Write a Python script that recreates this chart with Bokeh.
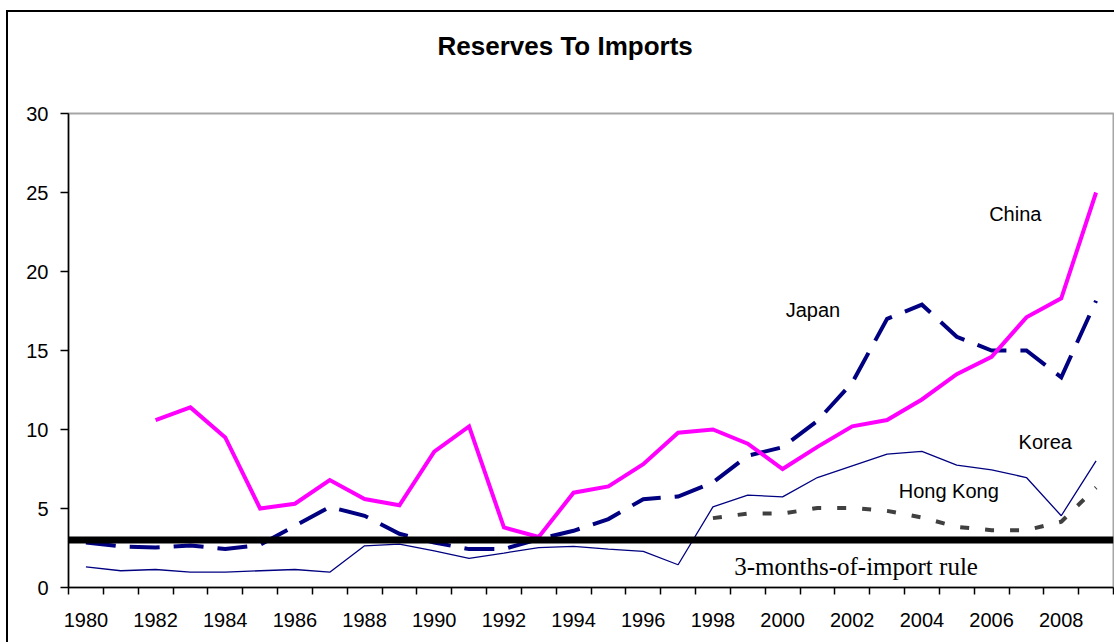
from bokeh.plotting import figure
from bokeh.models import Range1d, FixedTicker, Span, Label, Title
from bokeh.embed import file_html
from bokeh.resources import INLINE

nan = float("nan")

# Reserves expressed in months of imports, 1980-2009
years = list(range(1980, 2010))
china = [nan, nan, 10.6, 11.4, 9.5, 5.0, 5.3, 6.8, 5.6, 5.2,
         8.6, 10.2, 3.8, 3.2, 6.0, 6.4, 7.8, 9.8, 10.0, 9.1,
         7.5, 8.9, 10.2, 10.6, 11.9, 13.5, 14.6, 17.1, 18.3, 25.0]
japan = [2.85, 2.6, 2.53, 2.66, 2.43, 2.7, 3.9, 5.1, 4.54, 3.4,
         2.85, 2.43, 2.43, 3.06, 3.59, 4.33, 5.59, 5.76, 6.65, 8.34,
         8.88, 10.55, 12.97, 17.0, 17.9, 15.87, 15.0, 15.0, 13.3, 18.15]
korea = [1.31, 1.06, 1.14, 0.97, 0.97, 1.06, 1.14, 0.97, 2.64, 2.75,
         2.32, 1.84, 2.18, 2.53, 2.6, 2.43, 2.28, 1.44, 5.1, 5.85,
         5.74, 6.96, 7.7, 8.44, 8.61, 7.75, 7.45, 6.96, 4.54, 8.02]
hong_kong = [nan] * 18 + [4.39, 4.68, 4.68, 5.03, 5.03, 4.85, 4.43, 3.84,
                          3.63, 3.63, 4.16, 6.33]
rule_level = 3
y_ticks = [0, 5, 10, 15, 20, 25, 30]
x_label_years = list(range(1980, 2010, 2))

SANS = "Liberation Sans"
SERIF = "Liberation Serif"

p = figure(
    width=1108, height=632,
    x_range=Range1d(years[0] - 0.5, years[-1] + 0.5),
    y_range=Range1d(0, 30),
    output_backend="svg", toolbar_location=None,
    title_location=None,
    min_border_left=60, min_border_right=3,
    min_border_top=101, min_border_bottom=57,
    margin=(10, 0, 0, 6),
)
p.styles = {"border-top": "2px solid #000000", "border-left": "2px solid #000000"}

# empty band between the plot area and the heading
p.add_layout(Title(text=" ", text_font_size="2px", standoff=49), "above")
p.add_layout(Title(text="Reserves To Imports", text_font=SANS,
                   text_font_size="26px", text_font_style="bold",
                   text_color="black", align="left", offset=369,
                   standoff=0), "above")

p.xgrid.visible = False
p.ygrid.visible = False
p.outline_line_color = "#a6a6a6"
p.outline_line_width = 2
p.background_fill_color = "white"
p.border_fill_color = "white"

# x axis: tick marks between categories, labels on even years
p.xaxis.ticker = FixedTicker(ticks=x_label_years,
                             minor_ticks=[y - 0.5 for y in years] + [years[-1] + 0.5])
p.xaxis.major_tick_out = 0
p.xaxis.major_tick_in = 0
p.xaxis.minor_tick_out = 7
p.xaxis.minor_tick_in = 0
p.xaxis.minor_tick_line_color = "black"
p.xaxis.minor_tick_line_width = 1.5
p.xaxis.major_label_standoff = 18
p.xaxis.major_label_text_font = SANS
p.xaxis.major_label_text_font_size = "20px"
p.xaxis.major_label_text_color = "black"
p.xaxis.axis_line_color = "black"
p.xaxis.axis_line_width = 1.5

p.yaxis.ticker = FixedTicker(ticks=y_ticks)
p.yaxis.major_tick_out = 8
p.yaxis.major_tick_in = 0
p.yaxis.minor_tick_out = 0
p.yaxis.minor_tick_in = 0
p.yaxis.major_tick_line_color = "black"
p.yaxis.major_tick_line_width = 1.5
p.yaxis.major_label_standoff = 12
p.yaxis.major_label_text_font = SANS
p.yaxis.major_label_text_font_size = "20px"
p.yaxis.major_label_text_color = "black"
p.yaxis.axis_line_color = "black"
p.yaxis.axis_line_width = 1.5

# series
p.line(years, korea, line_color="#000080", line_width=1.3)
p.line(years, hong_kong, line_color="#404040", line_width=4,
       line_dash="9 16", line_cap="butt")
p.line(years, japan, line_color="#000080", line_width=4,
       line_dash="30 14", line_cap="butt", line_join="miter")
p.line(years, china, line_color="#ff00ff", line_width=4, line_join="miter")

# three-months-of-imports threshold
p.add_layout(Span(location=rule_level, dimension="width",
                  line_color="black", line_width=7))

labels = [
    ("China", 2006.68, 23.65, SANS, "20px"),
    ("Japan", 2000.87, 17.58, SANS, "20px"),
    ("Korea", 2007.54, 9.22, SANS, "20px"),
    ("Hong Kong", 2004.77, 6.12, SANS, "20px"),
    ("3-months-of-import rule", 2002.11, 1.35, SERIF, "25px"),
]
for txt, lx, ly, font, size in labels:
    p.add_layout(Label(x=lx, y=ly, text=txt, text_font=font,
                       text_font_size=size, text_align="center",
                       text_baseline="middle", text_color="black"))

open("out.html", "w").write(file_html(p, INLINE))
